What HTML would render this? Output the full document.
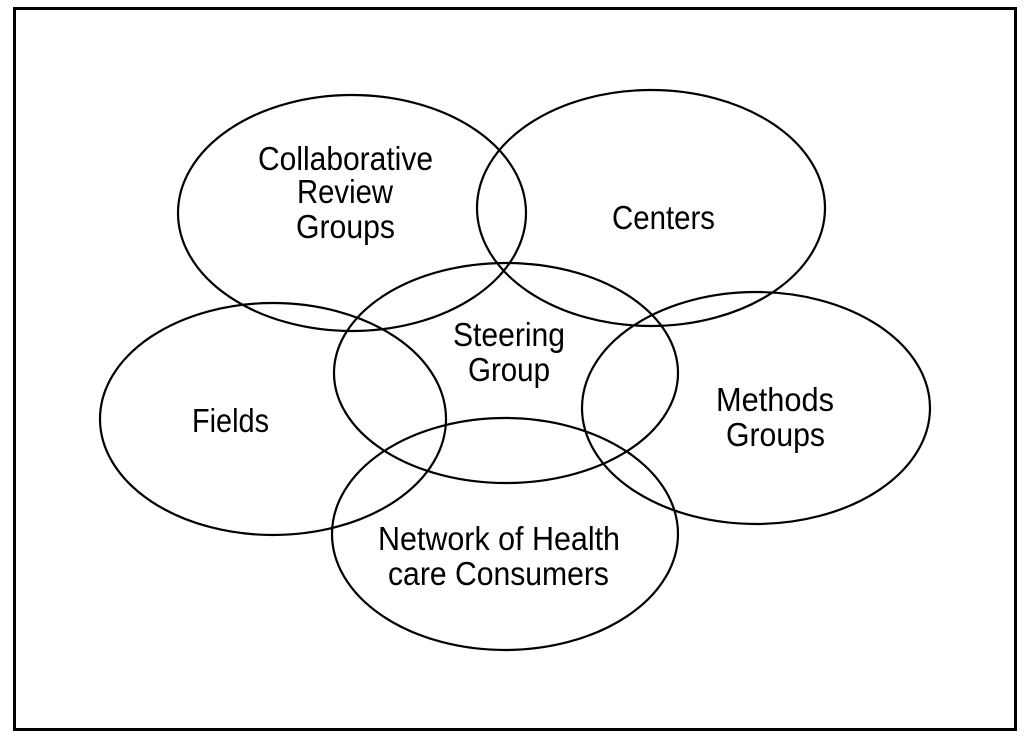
<!DOCTYPE html>
<html><head><meta charset="utf-8"><style>
html,body{margin:0;padding:0;background:#fff;}
svg{display:block;}
text{font-family:"Liberation Sans Narrow","Liberation Sans",sans-serif;font-size:33px;fill:#000;}
</style></head><body>
<svg width="1024" height="738" viewBox="0 0 1024 738" xmlns="http://www.w3.org/2000/svg">
<rect x="0" y="0" width="1024" height="738" fill="#fff"/>
<rect x="14.5" y="8.5" width="1001" height="721" fill="none" stroke="#000" stroke-width="3"/>
<g fill="none" stroke="#000" stroke-width="2.2">
<ellipse cx="352" cy="213" rx="174" ry="118"/>
<ellipse cx="651" cy="208" rx="174" ry="118"/>
<ellipse cx="273" cy="419" rx="173" ry="116"/>
<ellipse cx="506" cy="373" rx="172" ry="110"/>
<ellipse cx="756" cy="408" rx="174" ry="116"/>
<ellipse cx="505" cy="534" rx="173" ry="116"/>
</g>
<g lengthAdjust="spacingAndGlyphs">
<text x="258" y="170" textLength="175" lengthAdjust="spacingAndGlyphs">Collaborative</text>
<text x="297" y="203" textLength="96" lengthAdjust="spacingAndGlyphs">Review</text>
<text x="296" y="238" textLength="99" lengthAdjust="spacingAndGlyphs">Groups</text>
<text x="612" y="229" textLength="103" lengthAdjust="spacingAndGlyphs">Centers</text>
<text x="453" y="346" textLength="112" lengthAdjust="spacingAndGlyphs">Steering</text>
<text x="468" y="381" textLength="82" lengthAdjust="spacingAndGlyphs">Group</text>
<text x="192" y="432" textLength="77" lengthAdjust="spacingAndGlyphs">Fields</text>
<text x="716" y="411" textLength="118" lengthAdjust="spacingAndGlyphs">Methods</text>
<text x="726" y="446" textLength="99" lengthAdjust="spacingAndGlyphs">Groups</text>
<text x="378" y="550" textLength="242" lengthAdjust="spacingAndGlyphs">Network of Health</text>
<text x="388" y="585" textLength="221" lengthAdjust="spacingAndGlyphs">care Consumers</text>
</g>
</svg>
</body></html>
